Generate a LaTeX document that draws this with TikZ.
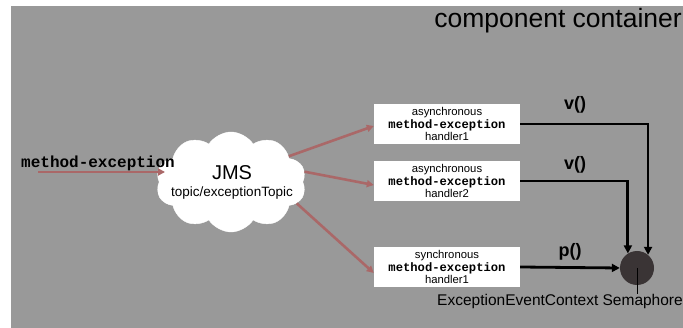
\documentclass[tikz,border=0pt]{standalone}
\usepackage{fontspec}
\setmainfont{Liberation Sans}
\setmonofont{Liberation Mono}
\usetikzlibrary{shapes.symbols,arrows.meta,calc}
\definecolor{panel}{RGB}{153,153,153}
\definecolor{flow}{RGB}{170,104,104}
\definecolor{semfill}{RGB}{58,52,53}
\newcommand\methodfont{\fontsize{12.2}{12}\selectfont\ttfamily\bfseries}
\begin{document}
\begin{tikzpicture}[x=1pt,y=-1pt,
  handler/.style={fill=white,draw=none,minimum width=146pt,minimum height=40pt,
    inner sep=0pt,align=center,font=\fontsize{11.3}{12.8}\selectfont},
  flowarrow/.style={draw=flow,line width=2.6pt,
    -{Triangle[length=7pt,width=7pt]}},
  callarrow/.style={draw=black,line width=2.8pt,
    -{Triangle[length=8pt,width=8pt]}},
  calllabel/.style={font=\fontsize{18}{18}\selectfont\bfseries}]
  % page and grey container panel
  \fill[white] (0,0) rectangle (683,328);
  \fill[panel] (11,6) rectangle (683,328);
  \useasboundingbox (0,0) rectangle (683,328);

  \node[anchor=east,font=\fontsize{26.5}{26}\selectfont,inner sep=0pt] (title)
    at (682,21) {component container};

  % JMS topic cloud
  \node[cloud,cloud puffs=10,cloud puff arc=115,aspect=1.5,fill=white,draw=white,
    minimum width=150pt,minimum height=100pt,inner sep=0pt,align=center] (jms)
    at (231,182) {};
  \node[font=\fontsize{20}{20}\selectfont,inner sep=0pt] (jmsname) at (232,173) {JMS};
  \node[font=\fontsize{13.5}{14}\selectfont,inner sep=0pt] (topic) at (232,193) {topic/exceptionTopic};

  % incoming message
  \coordinate (src) at (38,172);
  \draw[flowarrow] (src) -- ([xshift=6pt]src -| jms.west);
  \node[font=\fontsize{16}{16}\selectfont\ttfamily\bfseries,anchor=west,inner sep=0pt]
    (msg) at (21,163) {method-exception};

  % handlers
  \node[handler] (h1) at (447,124) {asynchronous\\{\methodfont method-exception}\\handler1};
  \node[handler] (h2) at (447,181) {asynchronous\\{\methodfont method-exception}\\handler2};
  \node[handler] (h3) at (447,267) {synchronous\\{\methodfont method-exception}\\handler1};

  % semaphore
  \node[circle,fill=semfill,minimum size=34pt,inner sep=0pt] (sem) at (637,268) {};
  \node[font=\fontsize{15.5}{15.5}\selectfont,anchor=east,inner sep=0pt] (semname)
    at (683,301) {ExceptionEventContext Semaphore};

  % topic fan-out to the handlers
  \draw[flowarrow] (jms.24) -- ([yshift=-2pt]h1.west);
  \draw[flowarrow] (jms.8) -- ([yshift=-4pt]h2.west);
  \draw[flowarrow] (jms.-18) -- ([yshift=-6pt]h3.west);

  % semaphore calls
  \draw[callarrow] (h1.east) -| (sem.50);
  \draw[callarrow] (h2.east) -| (sem.122);
  \draw[callarrow] (h3.east) -- (sem.west);
  \draw[black,line width=0.8pt] (sem.center) -- (sem.center |- semname.north);

  \node[calllabel] (v1) at (575,105) {v()};
  \node[calllabel] (v2) at (575,165) {v()};
  \node[calllabel] (p3) at (570,252) {p()};
\end{tikzpicture}
\end{document}
